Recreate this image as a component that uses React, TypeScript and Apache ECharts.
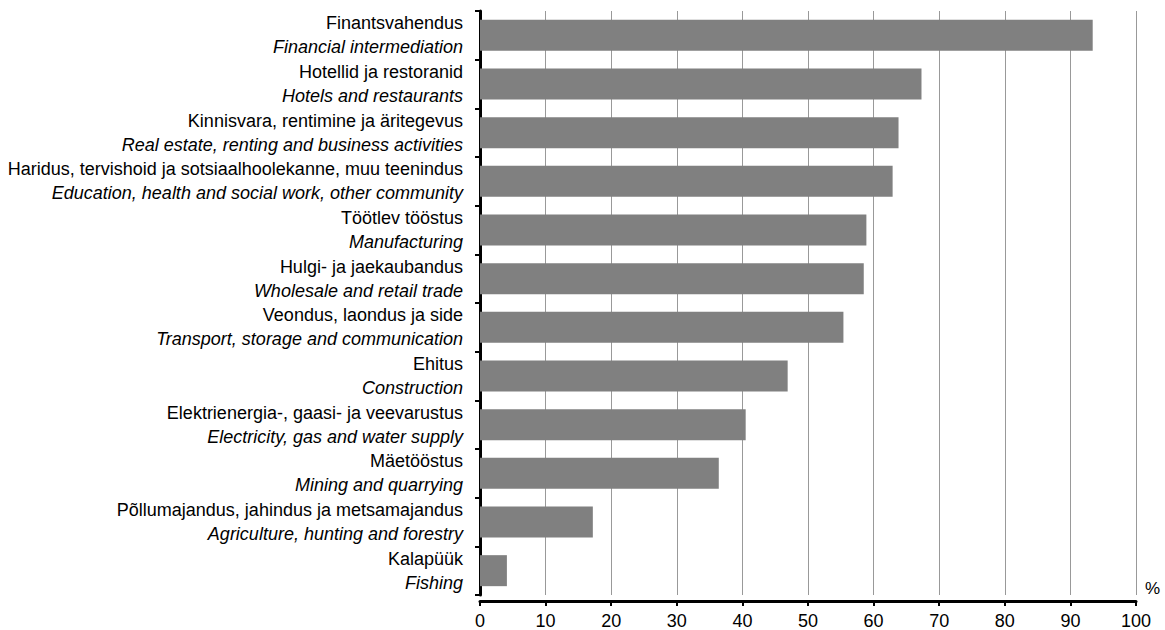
import React, { useEffect, useRef } from "react";
import * as echarts from "echarts";

const categoriesEt = [
  "Finantsvahendus",
  "Hotellid ja restoranid",
  "Kinnisvara, rentimine ja äritegevus",
  "Haridus, tervishoid ja sotsiaalhoolekanne, muu teenindus",
  "Töötlev tööstus",
  "Hulgi- ja jaekaubandus",
  "Veondus, laondus ja side",
  "Ehitus",
  "Elektrienergia-, gaasi- ja veevarustus",
  "Mäetööstus",
  "Põllumajandus, jahindus ja metsamajandus",
  "Kalapüük",
];
const categoriesEn = [
  "Financial intermediation",
  "Hotels and restaurants",
  "Real estate, renting and business activities",
  "Education, health and social work, other community",
  "Manufacturing",
  "Wholesale and retail trade",
  "Transport, storage and communication",
  "Construction",
  "Electricity, gas and water supply",
  "Mining and quarrying",
  "Agriculture, hunting and forestry",
  "Fishing",
];
const values = [93.4, 67.3, 63.8, 62.9, 58.9, 58.5, 55.4, 46.9, 40.5, 36.4, 17.2, 4.1];
const xTicks = [0, 10, 20, 30, 40, 50, 60, 70, 80, 90, 100];
const unitLabel = "%";

const FONT = "'Liberation Sans', Arial, sans-serif";

export default function App() {
  const ref = useRef<HTMLDivElement>(null);
  useEffect(() => {
    document.body.style.margin = "0";
    const chart = echarts.init(ref.current!, null, { renderer: "svg" });
    chart.setOption({
      animation: false,
      grid: { left: 480, right: 29, top: 11, bottom: 35, containLabel: false },
      xAxis: {
        type: "value",
        min: xTicks[0],
        max: xTicks[xTicks.length - 1],
        interval: 10,
        offset: 6,
        axisLine: { show: true, lineStyle: { color: "#000", width: 3 } },
        axisTick: { show: true, length: 5, lineStyle: { color: "#000", width: 2 } },
        axisLabel: { color: "#000", fontSize: 18, fontFamily: FONT, margin: 11 },
        splitLine: { show: true, lineStyle: { color: "#999999", width: 1 } },
      },
      yAxis: {
        type: "category",
        inverse: true,
        data: categoriesEt.map((c, i) => c + "\n" + categoriesEn[i]),
        offset: 5,
        axisLine: { show: true, lineStyle: { color: "#000", width: 3 } },
        axisTick: { show: true, length: 5, inside: false, lineStyle: { color: "#000", width: 2 } },
        axisLabel: {
          margin: 12,
          formatter: (v: string) => {
            const [a, b] = v.split("\n");
            return "{a|" + a + "}\n{b|" + b + "}";
          },
          rich: {
            a: { fontSize: 18, fontFamily: FONT, color: "#000", lineHeight: 24 },
            b: { fontSize: 18, fontFamily: FONT, color: "#000", lineHeight: 24, fontStyle: "italic" },
          },
        },
        splitLine: { show: false },
      },
      series: [
        {
          type: "bar",
          data: values,
          barWidth: 31,
          itemStyle: { color: "#808080" },
        },
      ],
      graphic: [
        {
          type: "text",
          left: 1145,
          top: 580,
          style: { text: unitLabel, fontSize: 17, fontFamily: FONT, fill: "#000" },
        },
      ],
    });
    return () => chart.dispose();
  }, []);
  return <div ref={ref} style={{ width: 1165, height: 630 }} />;
}
